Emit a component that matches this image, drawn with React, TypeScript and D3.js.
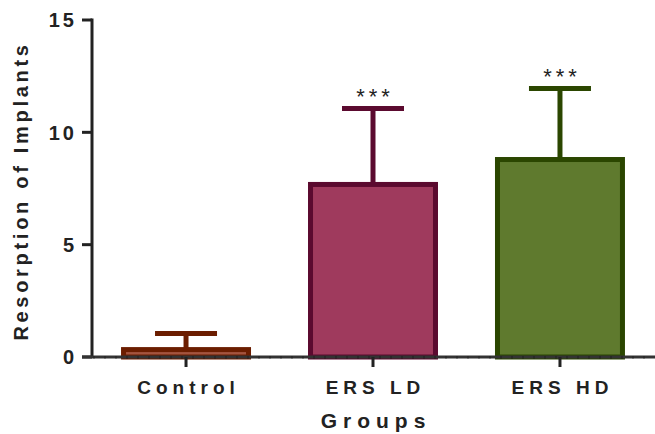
import React from "react";
import * as d3 from "d3";

const categories = ["Control", "ERS LD", "ERS HD"];
const means = [0.33, 7.68, 8.79];
const upperErrors = [1.05, 11.06, 11.95];
const significance = ["", "***", "***"];
const yTicks = [0, 5, 10, 15];
const fills = ["#a4543e", "#9f3a5d", "#5f7a2e"];
const strokes = ["#6b1d00", "#5b0a2f", "#2b4600"];

const W = 655;
const H = 434;

export default function App() {
  const y = d3.scaleLinear().domain([0, 15]).range([357, 20]);
  const x = d3
    .scaleBand<string>()
    .domain(categories)
    .range([92.5, 653.5])
    .paddingInner(0.3316)
    .paddingOuter(0.166);
  const bw = x.bandwidth();
  const capW = 62;
  const axisColor = "#222";
  const font = "Arial, 'Liberation Sans', Helvetica, sans-serif";
  const minorTicks = d3.range(94, 655, 11);

  return (
    <svg
      width={W}
      height={H}
      style={{ position: "absolute", left: 0, top: 0, background: "#fff" }}
      fontFamily={font}
    >
      {categories.map((c, i) => {
        const cx = (x(c) as number) + bw / 2;
        return (
          <g key={c}>
            <line
              x1={cx}
              x2={cx}
              y1={y(means[i])}
              y2={y(upperErrors[i])}
              stroke={strokes[i]}
              strokeWidth={5}
            />
            <line
              x1={cx - capW / 2}
              x2={cx + capW / 2}
              y1={y(upperErrors[i])}
              y2={y(upperErrors[i])}
              stroke={strokes[i]}
              strokeWidth={5}
            />
            <rect
              x={x(c)}
              y={y(means[i])}
              width={bw}
              height={y(0) - y(means[i])}
              fill={fills[i]}
              stroke={strokes[i]}
              strokeWidth={5}
            />
            {significance[i] && (
              <text
                x={cx + 2}
                y={y(upperErrors[i]) - 5}
                textAnchor="middle"
                fontSize={22}
                letterSpacing={4}
                fill="#222"
              >
                {significance[i]}
              </text>
            )}
          </g>
        );
      })}

      {/* Y axis */}
      <line x1={92} x2={92} y1={y(15) - 1.5} y2={y(0)} stroke={axisColor} strokeWidth={3} />
      {yTicks.map((t) => (
        <g key={t}>
          <line x1={82} x2={92} y1={y(t)} y2={y(t)} stroke={axisColor} strokeWidth={3} />
          <text
            x={77}
            y={y(t)}
            dy="0.36em"
            textAnchor="end"
            fontSize={20}
            fontWeight="bold"
            letterSpacing={3}
            fill="#222"
          >
            {t}
          </text>
        </g>
      ))}

      {/* X axis */}
      <line x1={82} x2={655} y1={y(0)} y2={y(0)} stroke="#333" strokeWidth={3} />
      {minorTicks.map((m) => (
        <line key={m} x1={m} x2={m} y1={y(0) - 1} y2={y(0) + 2} stroke="#111" strokeWidth={1} opacity={0.5} />
      ))}
      {categories.map((c) => {
        const cx = (x(c) as number) + bw / 2;
        return (
          <g key={"t" + c}>
            <line x1={cx} x2={cx} y1={y(0)} y2={y(0) + 10} stroke={axisColor} strokeWidth={3} />
            <text
              x={cx + 2.5}
              y={394}
              textAnchor="middle"
              fontSize={19}
              fontWeight="bold"
              letterSpacing={5}
              fill="#222"
            >
              {c}
            </text>
          </g>
        );
      })}

      {/* Axis titles */}
      <text
        x={376}
        y={428}
        textAnchor="middle"
        fontSize={21}
        fontWeight="bold"
        letterSpacing={6}
        fill="#222"
      >
        Groups
      </text>
      <text
        transform={`translate(28,${191}) rotate(-90)`}
        textAnchor="middle"
        fontSize={20}
        fontWeight="bold"
        letterSpacing={3.7}
        fill="#222"
      >
        Resorption of Implants
      </text>
    </svg>
  );
}
